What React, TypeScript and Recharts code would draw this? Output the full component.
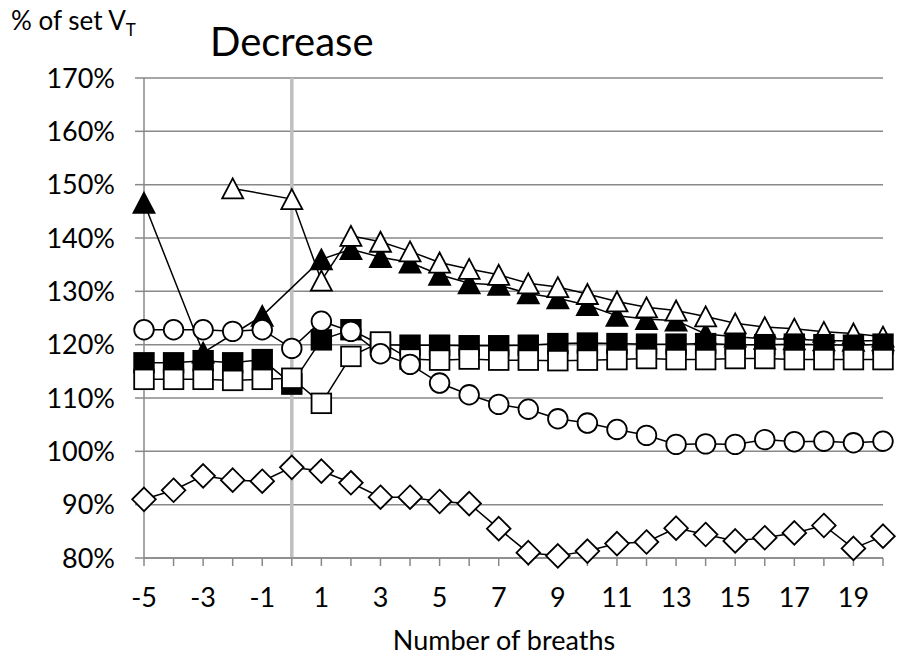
import React from 'react';
import { LineChart, Line, XAxis, YAxis, CartesianGrid, ReferenceLine } from 'recharts';

const breaths = [-5, -4, -3, -2, -1, 0, 1, 2, 3, 4, 5, 6, 7, 8, 9, 10, 11, 12, 13, 14, 15, 16, 17, 18, 19, 20];
const xTickLabels = ['-5', '-3', '-1', '1', '3', '5', '7', '9', '11', '13', '15', '17', '19'];
const yTicks = [80, 90, 100, 110, 120, 130, 140, 150, 160, 170];

const filledTriangle: (number | null)[] = [146.6, null, 118.5, null, 125.4, null, 136.0, 137.9, 136.4, 135.4, 133.1, 131.5, 131.2, 129.6, 128.7, 127.4, 125.4, 124.8, 124.5, 122.0, 121.5, 121.1, 121.0, 120.8, 120.7, 120.8];
const hollowTriangle: (number | null)[] = [null, null, null, 149.3, null, 147.3, 132.0, 140.4, 139.3, 137.5, 135.4, 134.2, 133.1, 131.5, 130.8, 129.5, 128.1, 127.0, 126.4, 125.3, 124.0, 123.3, 123.0, 122.4, 122.1, 121.5];
const filledSquare: (number | null)[] = [116.6, 116.6, 117.0, 116.6, 117.2, 112.6, 120.9, 122.8, 120.0, 119.9, 119.9, 119.8, 119.8, 119.9, 120.2, 120.3, 120.2, 120.1, 120.1, 120.2, 120.0, 120.0, 120.1, 120.0, 119.9, 120.1];
const hollowSquare: (number | null)[] = [113.5, 113.5, 113.5, 113.3, 113.5, 113.7, 109.0, 117.8, 120.5, 117.3, 117.1, 117.3, 117.1, 117.1, 117.0, 117.1, 117.2, 117.4, 117.2, 117.2, 117.4, 117.4, 117.2, 117.2, 117.2, 117.2];
const circleSeries: (number | null)[] = [122.8, 122.8, 122.8, 122.5, 122.8, 119.3, 124.4, 122.5, 118.3, 116.3, 112.8, 110.6, 108.8, 107.9, 106.1, 105.3, 104.1, 103.0, 101.3, 101.4, 101.3, 102.2, 101.8, 101.9, 101.6, 101.9];
const diamondSeries: (number | null)[] = [91.0, 92.7, 95.4, 94.6, 94.4, 97.0, 96.3, 94.1, 91.4, 91.4, 90.6, 90.2, 85.5, 81.0, 80.4, 81.3, 82.7, 83.0, 85.6, 84.4, 83.2, 83.8, 84.7, 86.1, 81.8, 84.1];

const data = breaths.map((x, i) => ({
  x,
  filledTriangle: filledTriangle[i],
  hollowTriangle: hollowTriangle[i],
  filledSquare: filledSquare[i],
  hollowSquare: hollowSquare[i],
  circle: circleSeries[i],
  diamond: diamondSeries[i],
}));

const FONT = 'Lato, "Open Sans", sans-serif';
const GRID = '#888888';

type Shape = 'triangle' | 'square' | 'circle' | 'diamond';

const makeDot = (shape: Shape, fill: string) => (props: any) => {
  const { cx, cy, value, index } = props;
  const key = `${shape}-${fill}-${index}`;
  if (cx == null || cy == null || value == null || Number.isNaN(cx) || Number.isNaN(cy)) {
    return <g key={key} />;
  }
  const sw = 1.8;
  if (shape === 'circle') {
    return <circle key={key} cx={cx} cy={cy} r={9.8} fill={fill} stroke="#000" strokeWidth={sw} />;
  }
  if (shape === 'square') {
    const s = 9.8;
    return <rect key={key} x={cx - s} y={cy - s} width={2 * s} height={2 * s} fill={fill} stroke="#000" strokeWidth={sw} />;
  }
  if (shape === 'diamond') {
    const s = 11.8;
    return (
      <polygon key={key} points={`${cx},${cy - s} ${cx + s},${cy} ${cx},${cy + s} ${cx - s},${cy}`} fill={fill} stroke="#000" strokeWidth={sw} />
    );
  }
  const w = 10.5;
  const h = 10;
  return (
    <polygon key={key} points={`${cx},${cy - h} ${cx + w},${cy + h} ${cx - w},${cy + h}`} fill={fill} stroke="#000" strokeWidth={sw} strokeLinejoin="miter" />
  );
};

const xTickFormatter = (v: number) => (xTickLabels.includes(String(v)) ? String(v) : '');

export default function App() {
  return (
    <div style={{ position: 'absolute', left: 0, top: 0, width: 899, height: 658, background: '#fff' }}>
      <LineChart width={899} height={658} data={data} margin={{ top: 78, right: 16, bottom: 0, left: 0 }}>
        <CartesianGrid horizontal vertical={false} stroke={GRID} strokeWidth={1.5} />
        <XAxis
          dataKey="x"
          type="number"
          domain={[-5, 20]}
          ticks={breaths}
          interval={0}
          tickFormatter={xTickFormatter}
          height={100}
          tickSize={8}
          tickMargin={22}
          axisLine={{ stroke: GRID, strokeWidth: 1.5 }}
          tickLine={{ stroke: GRID, strokeWidth: 1.5 }}
          tick={{ fill: '#000', fontSize: 27, fontFamily: FONT }}
        />
        <YAxis
          type="number"
          domain={[80, 170]}
          ticks={yTicks}
          interval={0}
          tickFormatter={(v: number) => `${v}%`}
          width={144}
          tickSize={9}
          tickMargin={20}
          axisLine={{ stroke: GRID, strokeWidth: 1.5 }}
          tickLine={{ stroke: GRID, strokeWidth: 1.5 }}
          tick={{ fill: '#000', fontSize: 27, fontFamily: FONT }}
        />
        <ReferenceLine x={0} stroke="#bfbfbf" strokeWidth={3.5} />
        <Line dataKey="filledTriangle" stroke="#000" strokeWidth={1.5} connectNulls isAnimationActive={false} dot={makeDot('triangle', '#000')} activeDot={false} />
        <Line dataKey="hollowTriangle" stroke="#000" strokeWidth={1.5} connectNulls isAnimationActive={false} dot={makeDot('triangle', '#fff')} activeDot={false} />
        <Line dataKey="filledSquare" stroke="#000" strokeWidth={1.5} connectNulls isAnimationActive={false} dot={makeDot('square', '#000')} activeDot={false} />
        <Line dataKey="hollowSquare" stroke="#000" strokeWidth={1.5} connectNulls isAnimationActive={false} dot={makeDot('square', '#fff')} activeDot={false} />
        <Line dataKey="circle" stroke="#000" strokeWidth={1.5} connectNulls isAnimationActive={false} dot={makeDot('circle', '#fff')} activeDot={false} />
        <Line dataKey="diamond" stroke="#000" strokeWidth={1.5} connectNulls isAnimationActive={false} dot={makeDot('diamond', '#fff')} activeDot={false} />
      </LineChart>
      <svg width={899} height={658} style={{ position: 'absolute', left: 0, top: 0, pointerEvents: 'none' }}>
        <text x={11} y={30} fontFamily={FONT} fontSize={26} fill="#000">
          % of set V<tspan fontSize={17} dy={6}>T</tspan>
        </text>
        <text x={210} y={56} fontFamily={FONT} fontSize={40} fill="#000">Decrease</text>
        <text x={504} y={650} textAnchor="middle" fontFamily={FONT} fontSize={27} fill="#000">Number of breaths</text>
      </svg>
    </div>
  );
}
